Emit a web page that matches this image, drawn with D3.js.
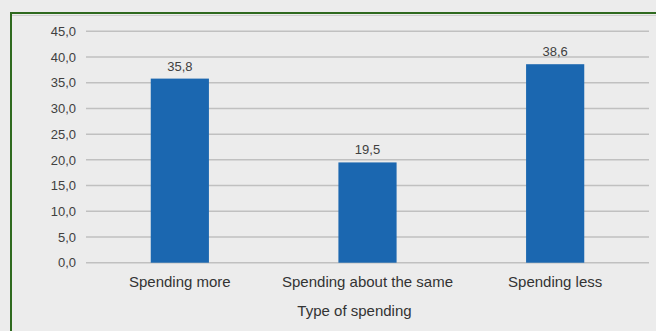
<!DOCTYPE html>
<html><head><meta charset="utf-8">
<script src="https://cdn.jsdelivr.net/npm/d3@7"></script>
<style>
html,body{margin:0;padding:0;background:#ececec;}
svg{display:block;}
text{font-family:"Liberation Sans",Arial,sans-serif;}
</style></head>
<body>
<svg id="c" width="656" height="331"></svg>
<script>
const categories = ["Spending more", "Spending about the same", "Spending less"];
const values = [35.8, 19.5, 38.6];
const yTicks = [0, 5, 10, 15, 20, 25, 30, 35, 40, 45];
const xTitle = "Type of spending";

(function () {
const svg = d3.select("#c");
const W = 656, H = 331;
svg.append("rect").attr("width", W).attr("height", H).attr("fill", "#ececec");
// frame
svg.append("rect").attr("x", 11).attr("y", 13).attr("width", W + 10).attr("height", H + 10)
  .attr("fill", "none").attr("stroke", "#2f6a1f").attr("stroke-width", 2);
svg.append("line").attr("x1", 12).attr("x2", W).attr("y1", 15.5).attr("y2", 15.5)
  .attr("stroke", "#cfcfcf").attr("stroke-width", 1);

const mLeft = 86, mRight = 649, mTop = 31.3, mBottom = 262.7;
const x = d3.scaleBand().domain(categories).range([mLeft, mRight]).paddingInner(0.69).paddingOuter(0.345);
const y = d3.scaleLinear().domain([0, 45]).range([mBottom, mTop]);

const fmt = v => d3.format(".1f")(v).replace(".", ",");

// grid
svg.append("g").selectAll("line").data(yTicks).join("line")
  .attr("x1", mLeft).attr("x2", mRight)
  .attr("y1", d => y(d)).attr("y2", d => y(d))
  .attr("stroke", "#c0c0c0").attr("stroke-width", 1.5);

// y axis labels
const ya = svg.append("g").attr("transform", `translate(${mLeft},0)`)
  .call(d3.axisLeft(y).tickValues(yTicks).tickFormat(fmt).tickSize(0).tickPadding(10));
ya.select(".domain").remove();
ya.selectAll("text").attr("font-size", 13).attr("fill", "#404040")
  .attr("font-family", "'Liberation Sans',Arial,sans-serif");

// bars
svg.append("g").selectAll("rect").data(values).join("rect")
  .attr("x", (d, i) => x(categories[i]))
  .attr("width", x.bandwidth())
  .attr("y", d => y(d))
  .attr("height", d => y(0) - y(d))
  .attr("fill", "#1b67b0");

// value labels
svg.append("g").selectAll("text").data(values).join("text")
  .attr("x", (d, i) => x(categories[i]) + x.bandwidth() / 2)
  .attr("y", d => y(d) - 8)
  .attr("text-anchor", "middle").attr("font-size", 13).attr("fill", "#404040")
  .text(fmt);

// x axis labels
const xa = svg.append("g").attr("transform", `translate(0,${mBottom})`)
  .call(d3.axisBottom(x).tickSize(0).tickPadding(14));
xa.select(".domain").remove();
xa.selectAll("text").attr("font-size", 15).attr("fill", "#333")
  .attr("font-family", "'Liberation Sans',Arial,sans-serif");

svg.append("text").attr("x", 354.5).attr("y", 316)
  .attr("text-anchor", "middle").attr("font-size", 15).attr("fill", "#333")
  .text(xTitle);
})();
</script>
</body></html>
